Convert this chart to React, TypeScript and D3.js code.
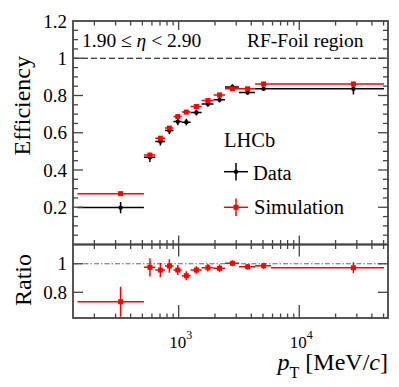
import React from "react";
import * as d3 from "d3";

// bin edges in pT [MeV/c]
const binEdges = [145, 515, 640, 770, 905, 1060, 1255, 1550, 1945, 2420, 3160, 4300, 5820, 50400];
const dataEff = [0.198, 0.468, 0.553, 0.612, 0.66, 0.657, 0.709, 0.754, 0.777, 0.846, 0.816, 0.836, 0.836];
const dataErr = [0.03, 0.025, 0.022, 0.02, 0.02, 0.018, 0.016, 0.015, 0.014, 0.014, 0.012, 0.012, 0.03];
const simEff = [0.273, 0.48, 0.571, 0.625, 0.687, 0.711, 0.741, 0.773, 0.803, 0.836, 0.836, 0.862, 0.862];
const simErr = [0.006, 0.006, 0.006, 0.006, 0.006, 0.006, 0.006, 0.006, 0.006, 0.006, 0.006, 0.006, 0.006];
const ratio = [0.734, 0.975, 0.956, 0.984, 0.956, 0.916, 0.956, 0.972, 0.968, 1.003, 0.979, 0.986, 0.972];
const ratioErr = [0.105, 0.064, 0.05, 0.047, 0.035, 0.031, 0.026, 0.026, 0.026, 0.021, 0.019, 0.022, 0.038];

const effTicks = [0.2, 0.4, 0.6, 0.8, 1, 1.2];
const effTickLabels = ["0.2", "0.4", "0.6", "0.8", "1", "1.2"];
const ratioTicks = [0.8, 1];
const ratioTickLabels = ["0.8", "1"];
const xMajor = [1000, 10000];
const xMajorExp = ["3", "4"];

const W = 399;
const H = 387;
const L = 73;
const R = 388;
const T1 = 21;
const B1 = 244.5;
const B2 = 318;
const FONT = "'Liberation Serif', 'DejaVu Serif', serif";
const FRAME = "#444";

export default function App() {
  const x = d3.scaleLog().domain([133, 54400]).range([L, R]);
  const y = d3.scaleLinear().domain([0, 1.2]).range([B1, T1]);
  const yr = d3.scaleLinear().domain([0.62, 1.135]).range([B2, B1]);

  const bins = binEdges.slice(0, -1).map((lo, i) => {
    const hi = binEdges[i + 1];
    return { lo, hi, c: (lo + hi) / 2, i };
  });

  const xTicks = x.ticks().filter((t) => t > 133 && t < 54400);
  const isMajor = (t: number) => xMajor.includes(t);
  const effMinor = d3.range(0.05, 1.2, 0.05).map((v) => +v.toFixed(2));

  const xTickMarks = (yy: number, dir: number, maj: number, min: number) =>
    xTicks.map((t) => (
      <line
        key={`${yy}-${dir}-${t}`}
        x1={x(t)}
        x2={x(t)}
        y1={yy}
        y2={yy + dir * (isMajor(t) ? maj : min)}
        stroke={FRAME}
        strokeWidth={1.3}
      />
    ));

  const errCross = (
    key: string,
    cx: number,
    cy: number,
    x1: number,
    x2: number,
    ey1: number,
    ey2: number,
    color: string,
    marker: "dot" | "square"
  ) => (
    <g key={key}>
      <line x1={x1} x2={x2} y1={cy} y2={cy} stroke={color} strokeWidth={1.5} />
      <line x1={cx} x2={cx} y1={ey1} y2={ey2} stroke={color} strokeWidth={1.5} />
      {marker === "dot" ? (
        <circle cx={cx} cy={cy} r={2.2} fill={color} />
      ) : (
        <rect x={cx - 2.5} y={cy - 2.5} width={5} height={5} fill={color} />
      )}
    </g>
  );

  return (
    <svg
      width={W}
      height={H}
      style={{ position: "absolute", left: 0, top: 0, background: "#fff" }}
      fontFamily={FONT}
    >
      <defs>
        <clipPath id="clipTop">
          <rect x={L} y={T1} width={R - L} height={B1 - T1} />
        </clipPath>
        <clipPath id="clipBot">
          <rect x={L} y={B1} width={R - L} height={B2 - B1} />
        </clipPath>
      </defs>

      {/* top panel */}
      <line x1={L} x2={R} y1={y(1)} y2={y(1)} stroke="#000" strokeWidth={1} strokeDasharray="6,3" />
      <g clipPath="url(#clipTop)">
        {bins.map((b) =>
          errCross(
            "d" + b.i,
            x(b.c),
            y(dataEff[b.i]),
            x(b.lo),
            x(b.hi),
            y(dataEff[b.i] + dataErr[b.i]),
            y(dataEff[b.i] - dataErr[b.i]),
            "#000",
            "dot"
          )
        )}
        {bins.map((b) =>
          errCross(
            "s" + b.i,
            x(b.c),
            y(simEff[b.i]),
            x(b.lo),
            x(b.hi),
            y(simEff[b.i] + simErr[b.i]),
            y(simEff[b.i] - simErr[b.i]),
            "#ff0000",
            "square"
          )
        )}
      </g>

      {/* bottom panel */}
      <line
        x1={L}
        x2={R}
        y1={yr(1)}
        y2={yr(1)}
        stroke="#666"
        strokeWidth={1}
        strokeDasharray="5,2,1.5,2"
      />
      <g clipPath="url(#clipBot)">
        {bins.map((b) =>
          errCross(
            "r" + b.i,
            x(b.c),
            yr(ratio[b.i]),
            x(b.lo),
            x(b.hi),
            yr(ratio[b.i] + ratioErr[b.i]),
            yr(ratio[b.i] - ratioErr[b.i]),
            "#ff0000",
            "square"
          )
        )}
      </g>

      {/* ticks */}
      {xTickMarks(T1, 1, 9, 4.5)}
      {xTickMarks(B1, -1, 9, 4.5)}
      {xTickMarks(B1, 1, 12, 4.5)}
      {xTickMarks(B2, -1, 13, 4.5)}
      {effMinor.map((v) => {
        const maj = effTicks.some((t) => Math.abs(t - v) < 1e-6);
        const len = maj ? 10 : 5;
        return (
          <g key={"ey" + v}>
            <line x1={L} x2={L + len} y1={y(v)} y2={y(v)} stroke={FRAME} strokeWidth={1.3} />
            <line x1={R} x2={R - len} y1={y(v)} y2={y(v)} stroke={FRAME} strokeWidth={1.3} />
          </g>
        );
      })}
      {ratioTicks.map((v) => (
        <g key={"ry" + v}>
          <line x1={L} x2={L + 10} y1={yr(v)} y2={yr(v)} stroke={FRAME} strokeWidth={1.3} />
          <line x1={R} x2={R - 10} y1={yr(v)} y2={yr(v)} stroke={FRAME} strokeWidth={1.3} />
        </g>
      ))}

      {/* frames */}
      <rect x={L} y={T1} width={R - L} height={B1 - T1} fill="none" stroke={FRAME} strokeWidth={1.8} />
      <rect x={L} y={B1} width={R - L} height={B2 - B1} fill="none" stroke={FRAME} strokeWidth={1.8} />

      {/* tick labels */}
      {effTicks.map((t, i) => (
        <text key={"el" + t} x={L - 6} y={y(t)} dy="0.35em" textAnchor="end" fontSize={19}>
          {effTickLabels[i]}
        </text>
      ))}
      {ratioTicks.map((t, i) => (
        <text key={"rl" + t} x={L - 6} y={yr(t)} dy="0.35em" textAnchor="end" fontSize={19}>
          {ratioTickLabels[i]}
        </text>
      ))}
      {xMajor.map((t, i) => (
        <text key={"xl" + t} x={x(t) + 2} y={348} textAnchor="middle" fontSize={17}>
          10
          <tspan dy={-9} fontSize={12}>
            {xMajorExp[i]}
          </tspan>
        </text>
      ))}

      {/* axis titles */}
      <text transform={`translate(30,${(T1 + B1) / 2 - 27}) rotate(-90)`} textAnchor="middle" fontSize={24}>
        Efficiency
      </text>
      <text transform={`translate(31,280) rotate(-90)`} textAnchor="middle" fontSize={24}>
        Ratio
      </text>
      <text x={R} y={370} textAnchor="end" fontSize={24}>
        <tspan fontStyle="italic">p</tspan>
        <tspan dy={8} fontSize={16}>T</tspan>
        <tspan dy={-8}> [MeV/</tspan>
        <tspan fontStyle="italic">c</tspan>
        <tspan>]</tspan>
      </text>

      {/* annotations */}
      <text x={82} y={47} fontSize={19.5}>
        1.90 ≤ <tspan fontStyle="italic">η</tspan> &lt; 2.90
      </text>
      <text x={247} y={47} fontSize={19.5}>
        RF-Foil region
      </text>

      {/* legend */}
      <text x={224} y={146.5} fontSize={20.5}>
        LHCb
      </text>
      {errCross("legd", 236, 171.7, 224, 248, 163, 180.5, "#000", "dot")}
      <text x={253} y={179.5} fontSize={20.5}>
        Data
      </text>
      {errCross("legs", 236, 207.3, 224, 248, 198.5, 216, "#ff0000", "square")}
      <text x={254} y={214} fontSize={20.5}>
        Simulation
      </text>
    </svg>
  );
}
